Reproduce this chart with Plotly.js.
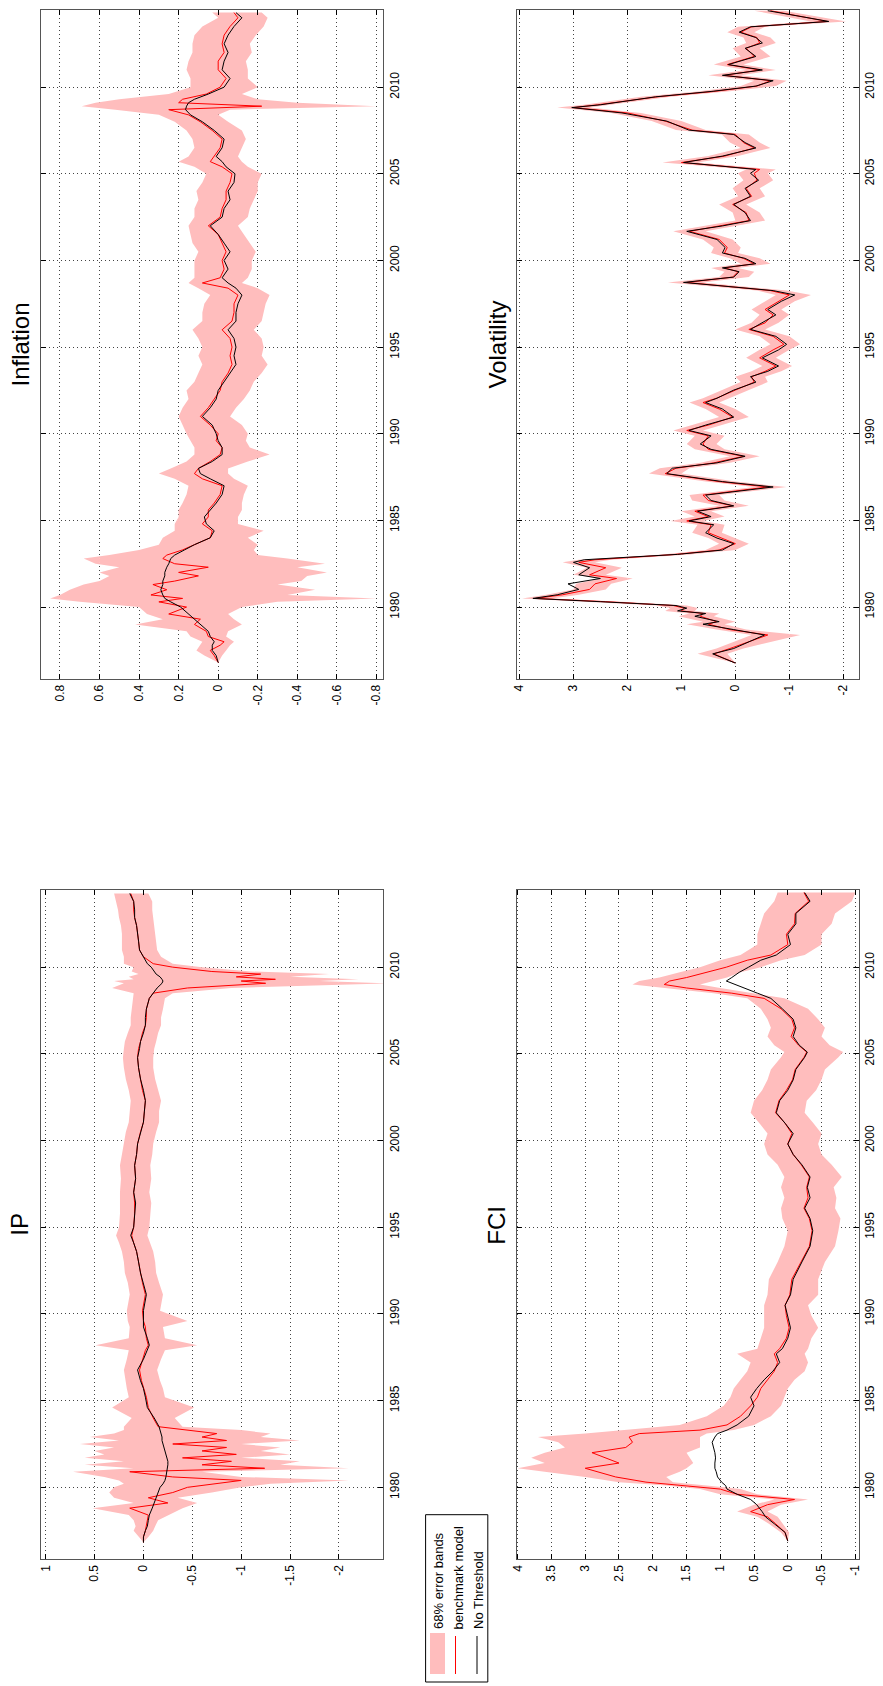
<!DOCTYPE html>
<html><head><meta charset="utf-8">
<script src="https://cdn.plot.ly/plotly-3.0.1.min.js"></script>
<style>html,body{margin:0;padding:0;background:#fff}</style>
</head><body><div id="chart" style="width:883px;height:1686px"></div>
<script>
// ---------- Inflation ----------
const infT = [1976.8,1977.2,1977.5,1977.8,1978.0,1978.3,1978.6,1979.0,1979.3,1979.6,
1980.0,1980.3,1980.5,1980.7,1981.0,1981.3,1981.5,1981.8,1982.0,1982.3,
1982.5,1982.8,1983.0,1983.3,1983.6,1984.0,1984.4,1984.8,1985.2,1985.6,
1986.0,1986.5,1987.0,1987.4,1987.7,1988.0,1988.4,1988.8,1989.2,1989.6,
1990.0,1990.5,1991.0,1991.5,1992.0,1992.5,1993.0,1993.5,1994.0,1994.5,
1995.0,1995.5,1996.0,1996.5,1997.0,1997.5,1998.0,1998.4,1998.7,1999.0,
1999.5,2000.0,2000.5,2001.0,2001.5,2002.0,2002.5,2003.0,2003.5,2004.0,
2004.5,2005.0,2005.4,2005.7,2006.0,2006.5,2007.0,2007.5,2008.0,2008.4,
2008.7,2008.9,2009.1,2009.3,2009.6,2010.0,2010.5,2011.0,2011.5,2012.0,
2012.5,2013.0,2013.5,2014.0,2014.3];
const infBlack = [0,0.01,0.03,0.03,0.02,0.04,0.05,0.09,0.12,0.15,
0.19,0.24,0.27,0.28,0.29,0.28,0.28,0.27,0.27,0.26,
0.25,0.24,0.22,0.17,0.12,0.04,0.02,0.06,0.07,0.04,
0.01,-0.02,-0.03,0.04,0.09,0.10,0.03,-0.02,-0.02,0,
0.01,0.03,0.08,0.04,0.01,0,-0.03,-0.06,-0.09,-0.08,
-0.09,-0.08,-0.05,-0.09,-0.09,-0.10,-0.12,-0.09,-0.05,-0.02,
-0.05,-0.03,-0.06,-0.03,0,0.04,-0.02,-0.03,-0.06,-0.05,
-0.08,-0.085,-0.04,-0.02,0.01,-0.02,-0.03,0.02,0.08,0.14,
0.165,0.16,0.15,0.12,0.05,-0.03,-0.06,-0.02,-0.03,-0.05,
-0.03,-0.05,-0.08,-0.12,-0.09];
const infRed = [0,0.02,0.04,-0.01,-0.03,0.05,0.06,0.12,0.09,0.25,
0.16,0.30,0.18,0.34,0.26,0.33,0.22,0.10,0.20,0.05,
0.22,0.28,0.26,0.18,0.12,0.04,0.03,0.08,0.05,0.05,
0.02,-0.01,-0.02,0.08,0.12,0.10,0.04,-0.01,-0.02,0.01,
0,0.04,0.09,0.05,0.02,-0.01,-0.02,-0.05,-0.07,-0.06,
-0.07,-0.06,-0.02,-0.07,-0.08,-0.08,-0.10,-0.05,0.08,-0.01,
-0.03,-0.02,-0.04,-0.02,0,0.05,-0.01,-0.02,-0.04,-0.04,
-0.06,-0.07,-0.02,0.04,0.02,-0.01,-0.02,0.03,0.09,0.15,
0.25,-0.22,0.20,0.18,0.06,-0.01,-0.04,0,0,-0.03,
-0.02,-0.03,-0.06,-0.10,-0.08];
const infLo = [0,-0.02,-0.04,-0.06,-0.08,-0.04,-0.05,-0.12,-0.08,-0.05,
-0.12,-0.30,-0.80,-0.35,-0.49,-0.30,-0.42,-0.45,-0.55,-0.40,
-0.54,-0.35,-0.20,-0.18,-0.20,-0.15,-0.23,-0.10,-0.10,-0.12,
-0.12,-0.13,-0.15,-0.08,-0.05,-0.05,-0.15,-0.26,-0.16,-0.14,
-0.15,-0.12,-0.06,-0.09,-0.13,-0.16,-0.18,-0.22,-0.25,-0.22,
-0.23,-0.22,-0.18,-0.22,-0.23,-0.24,-0.26,-0.20,-0.12,-0.15,
-0.17,-0.17,-0.19,-0.16,-0.13,-0.10,-0.15,-0.16,-0.18,-0.20,
-0.20,-0.22,-0.15,-0.12,-0.10,-0.12,-0.14,-0.12,-0.05,0,
-0.06,-0.80,-0.40,-0.20,-0.12,-0.20,-0.15,-0.15,-0.14,-0.17,
-0.16,-0.19,-0.23,-0.25,-0.22];
const infHi = [0,0.07,0.11,0.09,0.08,0.14,0.16,0.42,0.28,0.36,
0.40,0.70,0.85,0.80,0.75,0.68,0.60,0.55,0.60,0.50,
0.62,0.68,0.55,0.40,0.30,0.28,0.22,0.22,0.20,0.20,
0.18,0.16,0.15,0.22,0.30,0.24,0.16,0.12,0.12,0.14,
0.16,0.18,0.20,0.18,0.15,0.16,0.12,0.10,0.08,0.10,
0.08,0.10,0.13,0.08,0.08,0.07,0.04,0.10,0.15,0.12,
0.12,0.12,0.10,0.13,0.14,0.15,0.12,0.12,0.10,0.11,
0.08,0.06,0.12,0.20,0.15,0.12,0.13,0.16,0.22,0.30,
0.52,0.69,0.62,0.50,0.25,0.14,0.14,0.16,0.15,0.13,
0.13,0.12,0.08,0.00,0.03];
const infTickVals = [-0.8,-0.6,-0.4,-0.2,0,0.2,0.4,0.6,0.8];
const infTickText = ['-0.8','-0.6','-0.4','-0.2','0','0.2','0.4','0.6','0.8'];

// ---------- Volatility ----------
const volT = [1976.77,1977.3,1977.61,1978.39,1978.7,1979.01,1979.16,1979.47,1979.63,1979.78,
1979.94,1980.09,1980.31,1980.5,1980.71,1981.02,1981.34,1981.65,1981.86,1982.27,
1982.58,1982.73,1983.04,1983.29,1983.66,1983.98,1984.29,1984.75,1984.97,1985.22,
1985.53,1985.84,1986.15,1986.46,1986.93,1987.24,1987.7,1988.01,1988.32,1988.7,
1989.1,1989.41,1989.88,1990.19,1990.5,1990.96,1991.43,1991.8,1992.05,1992.52,
1992.98,1993.29,1993.6,1993.91,1994.38,1994.84,1995.16,1995.62,1996.02,1996.4,
1996.86,1997.17,1997.64,1998.01,1998.26,1998.73,1999.04,1999.35,1999.57,1999.81,
2000.12,2000.43,2000.75,2001.21,2001.68,2001.99,2002.3,2002.76,2003.23,2003.7,
2004.16,2004.63,2005.03,2005.25,2005.65,2006.02,2006.49,2006.8,2007.27,2007.52,
2008.04,2008.51,2008.82,2008.98,2009.44,2009.75,2010.06,2010.37,2010.68,2010.99,
2011.3,2011.77,2012.24,2012.55,2012.86,2013.17,2013.48,2013.79,2014.1,2014.41];
const volBlack = [0,0.42,0.03,-0.54,0.03,0.6,0.3,0.75,0.55,1.07,
0.9,1.1,2.5,3.75,3.3,2.9,3.1,2.5,2.9,2.7,
3.0,2.8,1.07,0.24,0.03,0.34,0.55,0.4,0.86,0.45,
0.7,0.03,0.45,0.55,-0.7,0.24,1.27,1.17,0.34,-0.18,
0.45,0.65,0.45,0.86,0.55,0.03,0.24,0.55,0.34,0.03,
-0.38,-0.28,-0.6,-0.8,-0.5,-0.8,-0.95,-0.75,-0.28,-0.5,
-0.75,-0.6,-0.85,-1.1,-0.7,0.96,0.03,-0.07,0.24,-0.38,
-0.18,0.24,0.19,0.34,0.9,0.24,-0.28,-0.18,0.03,-0.28,
-0.18,-0.43,-0.28,-0.38,0.96,0.24,-0.38,-0.18,0.03,0.86,
1.27,2.1,3.03,2.5,1.48,0.45,-0.38,-0.7,0.24,-0.5,
0.13,-0.38,-0.18,-0.5,-0.38,-0.07,-0.28,-1.73,-1.2,-0.6];
const volRed = [0,0.4,0.1,-0.6,0.1,0.5,0.35,0.65,0.6,1.0,
0.95,1.15,2.4,3.7,3.2,2.7,2.6,2.2,2.7,2.4,
2.9,2.6,1.1,0.3,0,0.25,0.5,0.45,0.9,0.5,
0.75,0.05,0.5,0.6,-0.6,0.3,1.3,1.1,0.4,-0.15,
0.5,0.6,0.5,0.9,0.5,0.05,0.3,0.6,0.35,0,
-0.35,-0.3,-0.55,-0.75,-0.45,-0.7,-0.9,-0.7,-0.25,-0.55,
-0.7,-0.55,-0.8,-1.0,-0.65,0.9,0.05,-0.05,0.2,-0.35,
-0.15,0.2,0.15,0.3,0.85,0.3,-0.25,-0.2,0.05,-0.3,
-0.2,-0.4,-0.35,-0.45,1.0,0.2,-0.35,-0.15,0,0.8,
1.3,2.0,3.0,2.55,1.45,0.4,-0.4,-0.65,0.2,-0.45,
0.15,-0.35,-0.2,-0.45,-0.4,-0.1,-0.3,-1.7,-1.15,-0.65];
const volLo = [0,0.15,-0.15,-1.2,-0.2,0.2,0,0.4,0.3,0.75,
0.7,0.9,2.1,3.4,2.9,2.4,2.3,1.9,2.4,2.1,
2.6,2.3,0.85,0,-0.25,0,0.25,0.2,0.6,0.2,
0.45,-0.25,0.2,0.3,-0.95,0,1.0,0.85,0.1,-0.45,
0.2,0.35,0.2,0.6,0.25,-0.25,0,0.3,0.1,-0.25,
-0.6,-0.55,-0.85,-1.05,-0.75,-1.0,-1.2,-1.0,-0.55,-0.8,
-1.0,-0.85,-1.1,-1.4,-0.95,0.6,-0.25,-0.35,-0.05,-0.65,
-0.45,-0.05,-0.1,0.05,0.55,0,-0.55,-0.45,-0.2,-0.55,
-0.45,-0.7,-0.6,-0.75,0.7,-0.05,-0.65,-0.45,-0.25,0.55,
1.0,1.75,2.7,2.25,1.2,0.15,-0.75,-0.95,-0.1,-0.75,
-0.15,-0.65,-0.45,-0.75,-0.65,-0.35,-0.55,-2.05,-1.5,-0.9];
const volHi = [0,0.7,0.35,-0.3,0.35,0.9,0.6,1.05,0.85,1.3,
1.2,1.45,2.8,3.95,3.5,3.0,2.95,2.5,3.0,2.75,
3.2,2.9,1.35,0.55,0.3,0.5,0.8,0.7,1.2,0.75,
1.0,0.3,0.8,0.85,-0.35,0.55,1.6,1.4,0.65,0.1,
0.75,0.9,0.75,1.15,0.8,0.3,0.55,0.85,0.6,0.25,
-0.1,0,-0.3,-0.5,-0.2,-0.45,-0.65,-0.45,0,-0.3,
-0.45,-0.3,-0.55,-0.75,-0.4,1.25,0.3,0.2,0.45,-0.1,
0.1,0.45,0.4,0.6,1.15,0.55,0,0.05,0.3,-0.05,
0.05,-0.15,-0.05,-0.2,1.35,0.5,-0.1,0.1,0.25,1.1,
1.55,2.3,3.3,2.8,1.75,0.7,-0.1,-0.35,0.5,-0.2,
0.4,-0.1,0.05,-0.2,-0.15,0.15,-0.05,-1.4,-0.9,-0.35];
const volTickVals = [-2,-1,0,1,2,3,4];
const volTickText = ['-2','-1','0','1','2','3','4'];

// ---------- IP ----------
const ipT = [1976.83,1977.14,1977.5,1977.76,1978.1,1978.4,1978.8,1979.1,1979.4,1979.7,
1980.0,1980.2,1980.4,1980.6,1980.9,1981.1,1981.3,1981.5,1981.7,1981.9,
1982.1,1982.3,1982.5,1982.7,1982.9,1983.1,1983.3,1983.5,1984.0,1984.6,
1985.2,1985.7,1986.15,1986.77,1987.39,1987.9,1988.2,1988.6,1989.25,1989.6,
1990.19,1991.12,1991.8,1992.36,1993.0,1993.6,1994.1,1994.53,1995.0,1995.78,
1996.4,1997.02,1997.8,1998.57,1999.2,1999.81,2000.5,2001.06,2001.7,2002.3,
2002.9,2003.54,2004.2,2004.78,2005.3,2005.71,2006.2,2006.65,2007.1,2007.58,
2008.2,2008.5,2008.8,2009.07,2009.2,2009.3,2009.44,2009.6,2009.75,2010.0,
2010.2,2010.6,2010.99,2011.5,2011.93,2012.4,2012.86,2013.3,2013.79,2014.25];
const ipBlack = [0,0,-0.02,-0.04,-0.05,-0.06,-0.09,-0.11,-0.13,-0.15,
-0.17,-0.2,-0.22,-0.23,-0.24,-0.25,-0.25,-0.25,-0.24,-0.23,
-0.22,-0.21,-0.2,-0.19,-0.19,-0.18,-0.17,-0.16,-0.11,-0.04,
-0.02,0,0.03,0.06,0,-0.04,-0.06,-0.04,0,0,
0,-0.03,0,0.03,0.05,0.07,0.1,0.13,0.1,0.09,
0.08,0.1,0.08,0.09,0.07,0.06,0.03,0,-0.01,-0.02,
0,0.03,0.05,0.06,0.04,0.03,0,-0.02,-0.02,-0.03,
-0.06,-0.1,-0.14,-0.19,-0.2,-0.19,-0.17,-0.13,-0.11,-0.08,
-0.04,0,0.04,0.05,0.06,0.07,0.09,0.09,0.1,0.14];
const ipRed = [0,0,-0.02,-0.03,-0.04,-0.05,0.14,-0.25,-0.05,-0.3,
-0.45,-0.7,-1.0,-0.3,0.14,-1.24,-0.6,-0.9,-0.4,-0.95,
-0.6,-0.85,-0.3,-0.85,-0.6,-0.75,-0.45,-0.15,-0.1,-0.05,
-0.03,0,0.02,0.04,0.01,-0.02,-0.05,-0.03,-0.02,0,
0.01,-0.02,0.01,0.03,0.05,0.07,0.1,0.12,0.1,0.09,
0.09,0.1,0.08,0.09,0.07,0.06,0.03,0,-0.01,-0.02,
0.01,0.03,0.05,0.06,0.05,0.03,0.01,-0.02,-0.03,-0.03,
-0.06,-0.1,-0.45,-1.25,-1.0,-1.35,-0.95,-1.2,-0.7,-0.3,
-0.1,0,0.04,0.05,0.06,0.07,0.09,0.1,0.1,0.13];
const ipLo = [0,-0.05,-0.1,-0.12,-0.15,-0.25,-0.4,-0.55,-0.35,-0.7,
-1.0,-1.3,-2.1,-1.0,-0.6,-2.1,-1.4,-1.6,-1.0,-1.5,
-1.2,-1.4,-1.0,-1.6,-1.2,-1.3,-1.0,-0.4,-0.32,-0.52,
-0.22,-0.2,-0.17,-0.14,-0.18,-0.22,-0.55,-0.22,-0.2,-0.45,
-0.17,-0.2,-0.16,-0.13,-0.12,-0.1,-0.07,-0.04,-0.06,-0.07,
-0.08,-0.06,-0.08,-0.07,-0.09,-0.1,-0.13,-0.16,-0.16,-0.18,
-0.15,-0.12,-0.1,-0.1,-0.11,-0.13,-0.15,-0.18,-0.18,-0.2,
-0.22,-0.3,-0.9,-2.5,-1.8,-2.2,-1.5,-1.9,-1.1,-0.6,
-0.3,-0.18,-0.14,-0.13,-0.12,-0.11,-0.1,-0.09,-0.09,-0.05];
const ipHi = [0,0.05,0.1,0.08,0.1,0.15,0.52,0.1,0.3,0.35,
0.3,0.2,0.25,0.4,0.72,0.1,0.6,0.2,0.6,0.4,
0.5,0.3,0.65,0.25,0.55,0.3,0.2,0.2,0.12,0.32,
0.15,0.17,0.18,0.2,0.17,0.15,0.49,0.15,0.14,0.16,
0.17,0.14,0.16,0.19,0.2,0.22,0.25,0.28,0.25,0.24,
0.24,0.24,0.23,0.24,0.22,0.2,0.18,0.15,0.14,0.13,
0.15,0.18,0.2,0.21,0.2,0.19,0.16,0.13,0.13,0.12,
0.1,0.1,0.32,0.2,0.3,0.1,0.15,0.05,0.12,0.1,
0.2,0.2,0.22,0.22,0.22,0.23,0.25,0.26,0.28,0.3];
const ipTickVals = [-2,-1.5,-1,-0.5,0,0.5,1];
const ipTickText = ['-2','-1.5','-1','-0.5','0','0.5','1'];

// ---------- FCI ----------
const fciT = [1976.9,1977.4,1977.9,1978.3,1978.6,1979.0,1979.3,1979.6,1979.9,1980.1,
1980.3,1980.6,1980.9,1981.1,1981.4,1981.7,1982.0,1982.3,1982.6,1982.9,
1983.1,1983.3,1983.6,1984.1,1984.7,1985.2,1985.7,1986.2,1986.7,1987.2,
1987.7,1988.0,1988.6,1989.2,1989.9,1990.5,1991.1,1992.0,1993.0,1993.9,
1994.8,1995.5,1996.1,1996.7,1997.3,1997.9,1998.6,1999.2,1999.8,2000.4,
2001.0,2001.6,2002.3,2002.9,2003.5,2004.1,2004.8,2005.1,2005.5,2006.0,
2006.5,2007.0,2007.6,2008.2,2008.5,2008.8,2009.0,2009.2,2009.4,2009.7,
2010.0,2010.4,2010.7,2011.3,2011.9,2012.5,2013.1,2013.8,2014.3];
const fciBlack = [0,0.04,0.2,0.33,0.38,0.46,0.55,0.75,0.9,0.92,
0.98,1.04,1.06,1.08,1.08,1.07,1.08,1.1,1.12,1.08,
1.04,0.9,0.75,0.58,0.5,0.55,0.46,0.35,0.22,0.12,
0.17,0.08,0,-0.04,0,0.04,-0.04,-0.08,-0.21,-0.33,
-0.37,-0.33,-0.25,-0.33,-0.29,-0.33,-0.21,-0.08,0,-0.08,
0.04,0.17,0.12,0,-0.08,-0.12,-0.25,-0.29,-0.17,-0.08,
-0.12,-0.08,0.08,0.25,0.45,0.66,0.8,0.91,0.83,0.72,
0.58,0.4,0.17,-0.04,0,-0.12,-0.12,-0.33,-0.25];
const fciRed = [0,0.04,0.18,0.3,0.55,0.3,-0.1,0.75,1.0,1.5,
2.1,2.55,2.8,3.0,2.5,2.7,2.9,2.4,2.3,2.35,
2.2,1.3,0.9,0.7,0.55,0.45,0.4,0.3,0.2,0.15,
0.2,0.12,0.02,-0.02,0.02,0.04,-0.03,-0.06,-0.2,-0.32,
-0.36,-0.32,-0.24,-0.3,-0.28,-0.32,-0.2,-0.08,0,-0.06,
0.04,0.18,0.13,0.02,-0.07,-0.11,-0.24,-0.28,-0.16,-0.05,
-0.1,-0.06,0.1,0.35,0.83,1.5,1.83,1.75,1.5,1.2,
0.91,0.6,0.25,0,0.02,-0.1,-0.11,-0.31,-0.24];
const fciLo = [0,-0.02,0.08,0.15,0.3,0.1,-0.3,0.45,0.7,1.2,
1.7,1.8,1.6,1.5,1.4,1.45,1.5,1.3,1.3,1.3,
1.2,0.8,0.5,0.25,0.1,0.05,0,-0.1,-0.25,-0.3,
-0.25,-0.3,-0.35,-0.45,-0.35,-0.3,-0.45,-0.45,-0.55,-0.7,
-0.75,-0.78,-0.7,-0.72,-0.68,-0.8,-0.65,-0.5,-0.45,-0.5,
-0.38,-0.25,-0.28,-0.42,-0.5,-0.55,-0.75,-0.82,-0.62,-0.5,
-0.55,-0.45,-0.3,0.05,0.5,1.0,1.3,1.1,0.9,0.7,
0.4,0.1,-0.25,-0.5,-0.5,-0.65,-0.7,-0.95,-1.0];
const fciHi = [0,0.1,0.28,0.45,0.75,0.5,0.2,1.0,1.3,1.8,
2.5,3.0,3.6,4.0,3.6,3.8,3.6,3.3,3.4,3.7,
3.0,2.4,1.6,1.2,0.95,0.85,0.8,0.7,0.6,0.55,
0.75,0.45,0.4,0.35,0.35,0.35,0.3,0.28,0.15,0.05,
0,0.08,0.1,0.05,0.1,0.05,0.15,0.3,0.35,0.3,
0.42,0.55,0.5,0.38,0.3,0.25,0.1,0.05,0.2,0.3,
0.25,0.3,0.4,0.6,1.1,1.8,2.3,2.2,1.9,1.6,
1.3,1.0,0.7,0.45,0.45,0.4,0.35,0.2,0.15];
const fciTickVals = [-1,-0.5,0,0.5,1,1.5,2,2.5,3,3.5,4];
const fciTickText = ['-1','-0.5','0','0.5','1','1.5','2','2.5','3','3.5','4'];

// ---------- time axis ----------
const yearTickVals = [1980,1985,1990,1995,2000,2005,2010];
const yearTickText = ['1980','1985','1990','1995','2000','2005','2010'];
const legendLabels = ['68% error bands','benchmark model','No Threshold'];

// ---------- layout helpers ----------
const W = 883, H = 1686;
const px = v => v / W, py = v => 1 - v / H;
const BAND = 'rgb(255,189,189)';
const FONT = 'Liberation Sans, Arial, Helvetica, sans-serif';

const panels = [
  {title:'Inflation', t:infT, b:infBlack, r:infRed, lo:infLo, hi:infHi, xr:[0.896,-0.835], tv:infTickVals, tt:infTickText, box:[41,383.3,10,679], tx:20},
  {title:'Volatility', t:volT, b:volBlack, r:volRed, lo:volLo, hi:volHi, xr:[4.05,-2.29], tv:volTickVals, tt:volTickText, box:[516.7,859,10,679], tx:497},
  {title:'IP', t:ipT, b:ipBlack, r:ipRed, lo:ipLo, hi:ipHi, xr:[1.048,-2.454], tv:ipTickVals, tt:ipTickText, box:[41,383.3,890,1559.3], tx:20},
  {title:'FCI', t:fciT, b:fciBlack, r:fciRed, lo:fciLo, hi:fciHi, xr:[4.015,-1.055], tv:fciTickVals, tt:fciTickText, box:[516.7,859,890,1559.3], tx:497}
];

const traces = [];
const layout = {
  width: W, height: H,
  margin: {l:0, r:0, t:0, b:0},
  paper_bgcolor: '#fff', plot_bgcolor: '#fff',
  showlegend: false,
  font: {family: FONT, size: 12, color: '#000'},
  annotations: [], shapes: []
};

const axCommon = {
  showgrid: true, gridcolor: '#444', griddash: '1px,3px', gridwidth: 1,
  zeroline: false, showline: true, linecolor: '#555', linewidth: 1,
  mirror: 'ticks', ticks: 'inside', ticklen: 5, tickwidth: 1, tickcolor: '#000',
  tickfont: {family: FONT, size: 12, color: '#000'}, fixedrange: true
};

panels.forEach((p, i) => {
  const n = i === 0 ? '' : String(i + 1);
  const xa = 'x' + n, ya = 'y' + n;
  const bandX = p.hi.concat(p.lo.slice().reverse());
  const bandY = p.t.concat(p.t.slice().reverse());
  traces.push({type:'scatter', mode:'lines', x:bandX, y:bandY, fill:'toself', fillcolor:BAND,
    line:{width:0, color:BAND}, hoverinfo:'skip', xaxis:xa, yaxis:ya});
  traces.push({type:'scatter', mode:'lines', x:p.r, y:p.t, line:{color:'#ff0000', width:1}, xaxis:xa, yaxis:ya});
  traces.push({type:'scatter', mode:'lines', x:p.b, y:p.t, line:{color:'#000000', width:1}, xaxis:xa, yaxis:ya});
  layout['xaxis' + n] = Object.assign({}, axCommon, {
    domain: [px(p.box[0]), px(p.box[1])], range: p.xr, anchor: ya,
    tickmode: 'array', tickvals: p.tv, ticktext: p.tt, tickangle: -90
  });
  layout['yaxis' + n] = Object.assign({}, axCommon, {
    domain: [py(p.box[3]), py(p.box[2])], range: [1975.85, 2014.45], anchor: xa,
    side: 'right', tickmode: 'array', tickvals: yearTickVals, ticktext: yearTickText, tickangle: -90
  });
  layout.annotations.push({xref:'paper', yref:'paper', x:px(p.tx), y:py((p.box[2] + p.box[3]) / 2),
    text:p.title, showarrow:false, textangle:-90, xanchor:'center', yanchor:'middle',
    font:{family:FONT, size:24, color:'#000'}});
});

// ---------- legend (rotated, like the reference) ----------
layout.shapes.push({type:'rect', xref:'paper', yref:'paper', x0:px(425.6), x1:px(487.8), y0:py(1682), y1:py(1514.7),
  line:{color:'#000', width:1}, fillcolor:'#fff', layer:'above'});
layout.shapes.push({type:'rect', xref:'paper', yref:'paper', x0:px(430), x1:px(445), y0:py(1674), y1:py(1633),
  line:{width:0}, fillcolor:BAND, layer:'above'});
layout.shapes.push({type:'line', xref:'paper', yref:'paper', x0:px(455.5), x1:px(455.5), y0:py(1674), y1:py(1636),
  line:{color:'#ff0000', width:1}, layer:'above'});
layout.shapes.push({type:'line', xref:'paper', yref:'paper', x0:px(477), x1:px(477), y0:py(1674), y1:py(1636),
  line:{color:'#000', width:1}, layer:'above'});
[438.5, 458, 478].forEach((xx, k) => {
  layout.annotations.push({xref:'paper', yref:'paper', x:px(xx), y:py(1631), text:legendLabels[k],
    showarrow:false, textangle:-90, xanchor:'center', yanchor:'bottom',
    font:{family:FONT, size:13, color:'#000'}});
});

Plotly.newPlot('chart', traces, layout, {displayModeBar:false, staticPlot:true});
</script></body></html>
